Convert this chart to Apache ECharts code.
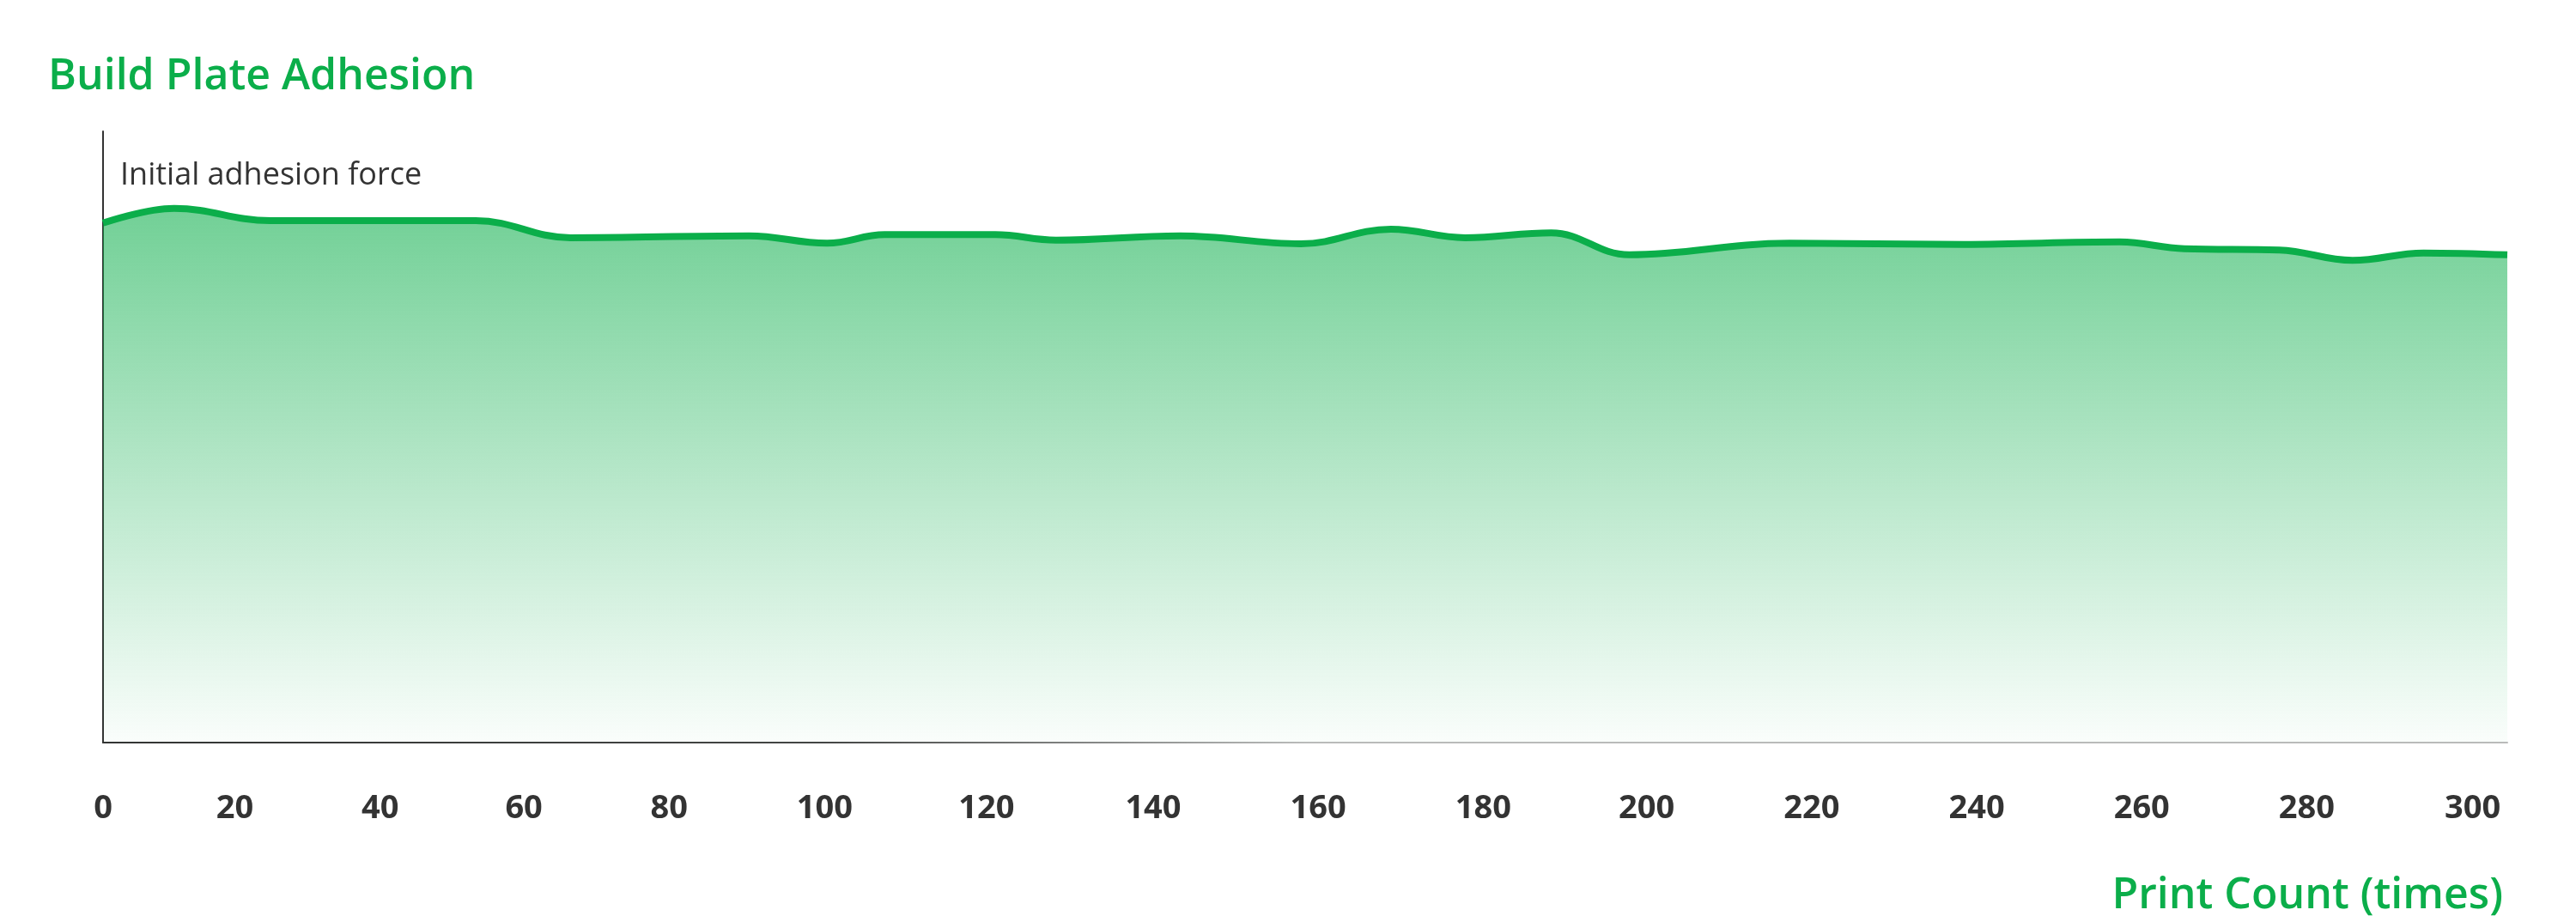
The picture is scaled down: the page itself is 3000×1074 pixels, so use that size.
<!DOCTYPE html>
<html>
<head>
<meta charset="utf-8">
<title>Build Plate Adhesion</title>
<script src="https://cdn.jsdelivr.net/npm/echarts@6/dist/echarts.min.js"></script>
<style>
	html, body { margin: 0; padding: 0; background: #fff; }
	#chart { width: 3000px; height: 1074px; }
</style>
</head>
<body>
<div id="chart"></div>
<script>
// print count positions (axis units) and adhesion level (0-100)
var printCount = [0, 9.0, 21.2, 47.2, 59.2, 81.8, 91.7, 99.0, 113.0, 120.7, 136.4, 151.7,
	163.1, 172.5, 183.4, 193.3, 213.6, 235.6, 255.4, 263.6, 275.6, 284.9, 293.9, 304.5];
var adhesion = [85.0, 87.4, 85.4, 85.4, 82.6, 82.9, 81.7, 83.1, 83.1, 82.2, 82.9, 81.6,
	84.0, 82.6, 83.4, 79.8, 81.7, 81.5, 81.9, 80.8, 80.6, 78.9, 80.1, 79.8];
// tick labels and where they sit on the axis
var tickText = ['0', '20', '40', '60', '80', '100', '120', '140', '160', '180', '200', '220', '240', '260', '280', '300'];
var tickAt = [0, 16.7, 35.1, 53.3, 71.7, 91.4, 111.9, 133.0, 153.9, 174.8, 195.5, 216.4, 237.3, 258.2, 279.1, 300.1];

var green = '#0bae4a';
var font = '"Open Sans", "Noto Sans", sans-serif';

var points = [];
for (var i = 0; i < printCount.length; i++) {
	points.push([printCount[i], adhesion[i]]);
}

var myChart = echarts.init(document.getElementById('chart'));
var option = {
	animation: false,
	title: [{
		text: 'Build Plate Adhesion',
		left: 51,
		top: 60,
		textStyle: { fontFamily: font, fontSize: 50, fontWeight: 600, color: green }
	}, {
		text: 'Initial adhesion force',
		left: 135,
		top: 182,
		textStyle: { fontFamily: font, fontSize: 36, fontWeight: 'normal', color: '#333' }
	}, {
		text: 'Print Count (times)',
		right: 80,
		top: 1014,
		textStyle: { fontFamily: font, fontSize: 50, fontWeight: 600, color: green }
	}],
	grid: {
		left: 120,
		right: 80,
		top: 153,
		bottom: 209
	},
	xAxis: {
		type: 'value',
		min: 0,
		max: 304.5,
		axisLine: {
			show: true,
			lineStyle: {
				width: 2,
				color: new echarts.graphic.LinearGradient(0, 0, 1, 0, [
					{ offset: 0, color: '#333' },
					{ offset: 0.3, color: '#444' },
					{ offset: 0.5, color: '#bbb' },
					{ offset: 1, color: '#bbb' }
				])
			}
		},
		axisTick: { show: false },
		splitLine: { show: false },
		axisLabel: {
			customValues: tickAt,
			margin: 58,
			fontFamily: font,
			fontSize: 38,
			fontWeight: 'bold',
			color: '#333',
			formatter: function(v) {
				var idx = tickAt.indexOf(v);
				return idx >= 0 ? tickText[idx] : '';
			}
		}
	},
	yAxis: {
		type: 'value',
		min: 0,
		max: 100,
		axisLine: { show: true, lineStyle: { width: 2, color: '#333' } },
		axisTick: { show: false },
		axisLabel: { show: false },
		splitLine: { show: false }
	},
	series: [{
		type: 'line',
		data: points,
		smooth: 0.4,
		symbol: 'none',
		lineStyle: { width: 8, color: green },
		areaStyle: {
			opacity: 1,
			color: new echarts.graphic.LinearGradient(0, 0, 0, 1, [
				{ offset: 0, color: 'rgba(11,174,74,0.58)' },
				{ offset: 1, color: 'rgba(11,174,74,0.02)' }
			])
		}
	}]
};
myChart.setOption(option);
</script>
</body>
</html>
